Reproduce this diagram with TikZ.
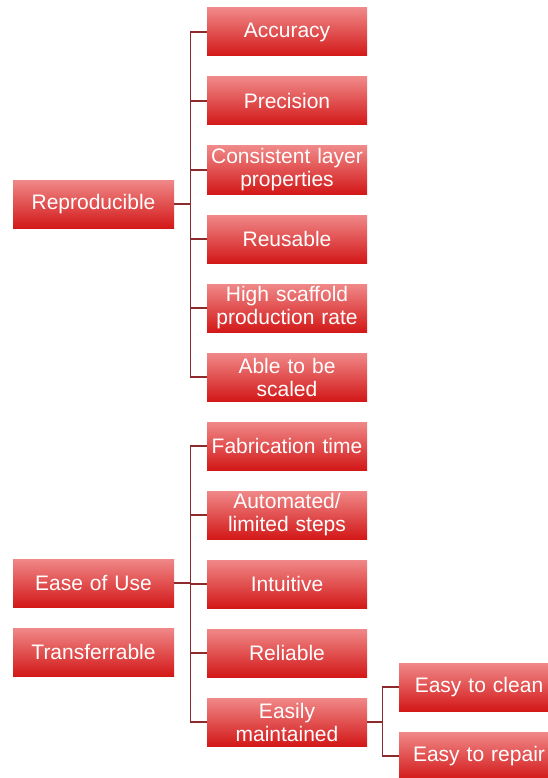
\documentclass[tikz,border=0pt]{standalone}
\usepackage{fontspec}
\setmainfont{Liberation Sans}
\usetikzlibrary{positioning,calc}
\definecolor{boxtop}{HTML}{F08888}
\definecolor{boxbot}{HTML}{D31818}
\definecolor{linkred}{HTML}{8E2A2E}
\tikzstyle{item}=[rectangle,top color=boxtop,bottom color=boxbot,minimum width=160pt,minimum height=48pt,inner sep=1pt,text width=158pt,align=center,text=white,font=\fontsize{21}{23}\selectfont]
\tikzstyle{link}=[draw=linkred,line width=1.3pt]

\begin{document}
\begin{tikzpicture}[x=1pt,y=-1pt,node distance=20.6pt]
\useasboundingbox (0,0) rectangle (548,778);
% right column
\node [item] (acc) at (287,32) {Accuracy};
\node [item,below=of acc] (prec) {Precision};
\node [item,below=of prec] (cons) {Consistent layer\\properties};
\node [item,below=of cons] (reuse) {Reusable};
\node [item,below=of reuse] (rate) {High scaffold\\production rate};
\node [item,below=of rate] (scale) {Able to be\\scaled};
\node [item,below=of scale] (fab) {Fabrication time};
\node [item,below=of fab] (auto) {Automated/\\limited steps};
\node [item,below=of auto] (intu) {Intuitive};
\node [item,below=of intu] (rel) {Reliable};
\node [item,below=of rel] (maint) {Easily\\maintained};
% left column
\node [item,minimum width=161pt] (repro) at (93.5,204) {Reproducible};
\node [item,minimum width=161pt] (ease) at (93.5,583) {Ease of Use};
\node [item,minimum width=161pt] (trans) at (93.5,652) {Transferrable};
% sub items
\node [item] (clean) at (479,687) {Easy to clean};
\node [item,below=of clean] (repair) {Easy to repair};

% connectors
\coordinate (rj) at ($(repro.east)+(16,0)$);
\draw [link] (repro.east) -- (rj);
\draw [link] (rj |- acc.west) -- (rj |- scale.west);
\foreach \n in {acc,prec,cons,reuse,rate,scale}
  \draw [link] (rj |- \n.west) -- (\n.west);

\coordinate (ej) at ($(ease.east)+(16,0)$);
\draw [link] (ease.east) -- (ej);
\draw [link] (ej |- fab.west) -- (ej |- maint.west);
\foreach \n in {fab,auto,intu,rel,maint}
  \draw [link] (ej |- \n.west) -- (\n.west);

\coordinate (mj) at ($(maint.east)+(15,0)$);
\draw [link] (maint.east) -- (mj);
\draw [link] (mj |- clean.west) -- (mj |- repair.west);
\foreach \n in {clean,repair}
  \draw [link] (mj |- \n.west) -- (\n.west);
\end{tikzpicture}
\end{document}
